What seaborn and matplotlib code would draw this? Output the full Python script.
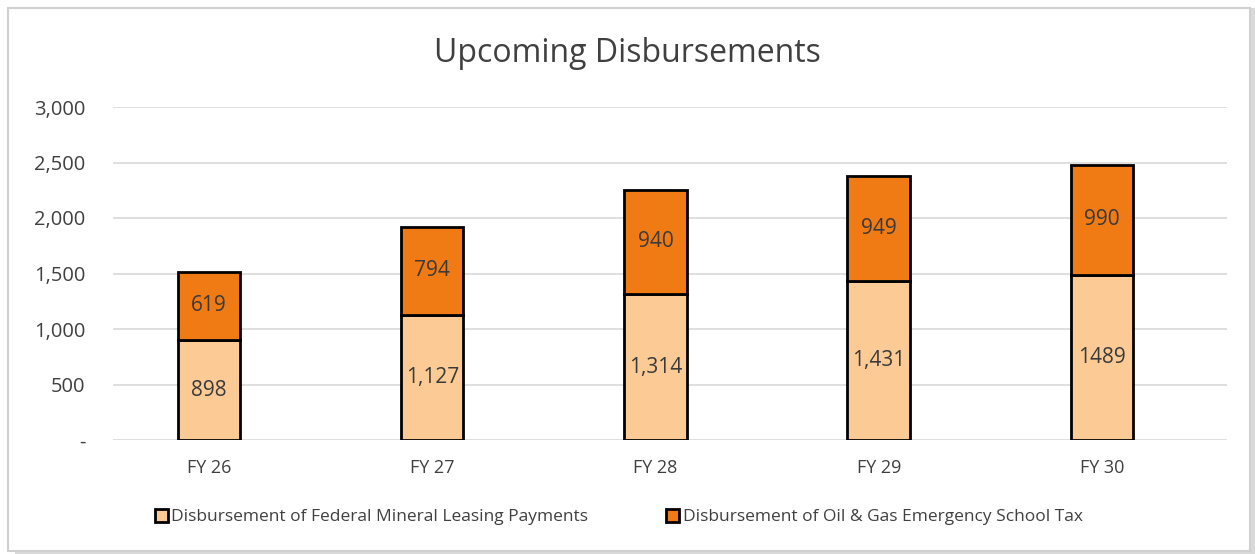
import matplotlib.pyplot as plt
import matplotlib.ticker as mticker
from matplotlib.patches import Rectangle
import pandas as pd
import seaborn as sns

years = ['FY 26', 'FY 27', 'FY 28', 'FY 29', 'FY 30']
federal = [898, 1127, 1314, 1431, 1489]
oil_gas = [619, 794, 940, 949, 990]
federal_labels = ['898', '1,127', '1,314', '1,431', '1489']
oil_gas_labels = ['619', '794', '940', '949', '990']

fed_name = 'Disbursement of Federal Mineral Leasing Payments'
oil_name = 'Disbursement of Oil & Gas Emergency School Tax'

df = pd.DataFrame({'year': years, 'federal': federal, 'oil_gas': oil_gas})

sns.set_theme(style='white')
plt.rcParams['font.family'] = ['Open Sans', 'DejaVu Sans']

fig = plt.figure(figsize=(12.55, 5.54), dpi=100)
ax = fig.add_axes([113 / 1255, 1 - 440 / 554, (1227 - 113) / 1255, (440 - 107) / 554])

# chart frame with shadow
fig.patches.append(Rectangle((0.012, 0.0), 0.988, 0.985, transform=fig.transFigure,
                             facecolor='#d9d9d9', edgecolor='none', zorder=-2))
fig.patches.append(Rectangle((0.006, 0.005), 0.99, 0.98, transform=fig.transFigure,
                             facecolor='white', edgecolor='#d0d0d0', linewidth=1.5, zorder=-1))

sns.barplot(data=df, x='year', y='federal', color='#fccb95', width=0.28,
            edgecolor='black', linewidth=2, saturation=1, ax=ax, label=fed_name)
sns.barplot(data=df, x='year', y='oil_gas', bottom=df['federal'], color='#f07a14', width=0.28,
            edgecolor='black', linewidth=2, saturation=1, ax=ax, label=oil_name)

ax.bar_label(ax.containers[0], labels=federal_labels, label_type='center',
             fontsize=15, color='#3a3a3a')
ax.bar_label(ax.containers[1], labels=oil_gas_labels, label_type='center',
             fontsize=15, color='#3a3a3a')

handles, labels = ax.get_legend_handles_labels()
if ax.get_legend() is not None:
    ax.get_legend().remove()

ax.set_ylim(0, 3000)
ax.set_xlim(-0.43, 4.56)
ax.set_yticks(range(0, 3001, 500))
ax.yaxis.set_major_formatter(mticker.FuncFormatter(lambda v, p: '-' if v == 0 else f'{v:,.0f}'))
ax.grid(axis='y', color='#d9d9d9', linewidth=1.2)
ax.set_axisbelow(True)
for s in ax.spines.values():
    s.set_visible(False)
ax.tick_params(axis='x', labelsize=13, colors='#404040', length=0, pad=14)
ax.tick_params(axis='y', labelsize=14.5, colors='#404040', length=0, pad=20)
ax.set_xlabel('')
ax.set_ylabel('')

fig.text(0.5, 1 - 53 / 554, 'Upcoming Disbursements', ha='center', va='center',
         fontsize=23, color='#404040')

fig.legend(handles, labels, loc='center', bbox_to_anchor=(0.493, 1 - 517 / 554), ncol=2,
           frameon=False, fontsize=12.5, handlelength=0.75, handleheight=0.75,
           columnspacing=4.5, handletextpad=0.2, labelcolor='#404040')

fig.savefig('out.png', dpi=100)
